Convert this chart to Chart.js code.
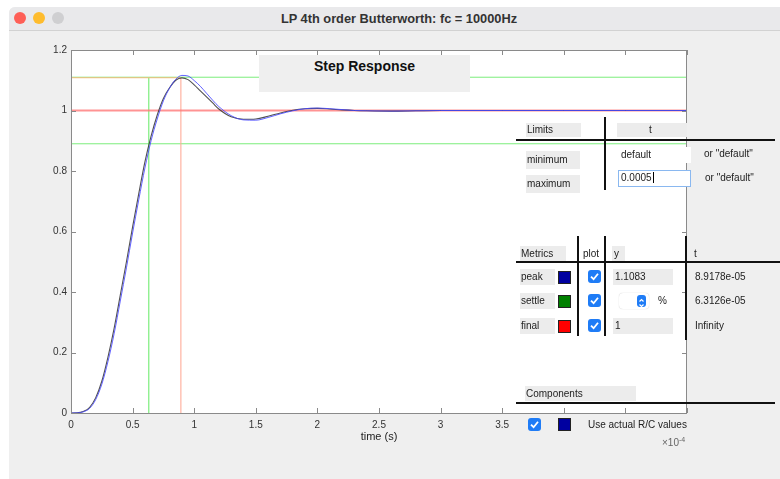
<!DOCTYPE html>
<html>
<head>
<meta charset="utf-8">
<script src="https://cdn.jsdelivr.net/npm/chart.js@4.4.0/dist/chart.umd.min.js"></script>
<style>
body{margin:0;width:780px;height:479px;background:#fff;position:relative;overflow:hidden;font-family:"Liberation Sans",Arial,sans-serif;color:#222;}
#win{position:absolute;left:9px;top:7px;width:771px;height:472px;background:#efefef;border-radius:6px 0 0 0;}
#bar{position:absolute;left:9px;top:7px;width:771px;height:23px;background:#e9e9eb;border-bottom:1px solid #d2d2d2;border-radius:6px 0 0 0;}
#bar .t{position:absolute;left:0;right:0;top:4px;text-align:center;font-size:12.8px;font-weight:bold;color:#333;padding-left:9px;}
.dot{position:absolute;top:11px;width:12px;height:12px;border-radius:50%;}
#chartBox{position:absolute;left:0;top:0;width:780px;height:479px;}
.o{position:absolute;font-size:10px;line-height:14px;white-space:nowrap;}
.g{position:absolute;background:#ececec;}
.hl{position:absolute;height:2px;background:#111;}
.vl{position:absolute;width:2px;background:#111;}
.sq{position:absolute;width:11px;height:11px;border:1px solid #222;}
.cb{position:absolute;width:13px;height:13px;background:#1f7cf6;border-radius:3px;}
.cb svg{position:absolute;left:2px;top:2px;}
.inp{position:absolute;background:#fff;font-size:10px;line-height:15px;padding-left:3px;box-sizing:border-box;}
</style>
</head>
<body>
<div id="win"></div>
<div id="bar">
  <div class="dot" style="left:5px;top:5px;background:#fe5f57;"></div>
  <div class="dot" style="left:24px;top:5px;background:#febc2e;"></div>
  <div class="dot" style="left:43px;top:5px;background:#cfcfd1;"></div>
  <div class="t">LP 4th order Butterworth: fc = 10000Hz</div>
</div>
<div id="chartBox"><canvas id="c" width="780" height="479"></canvas></div>

<!-- title box -->
<div class="g" style="left:259px;top:55px;width:211px;height:37px;background:#efefef;"></div>
<div class="o" style="left:259px;width:211px;top:57px;text-align:center;font-size:14px;font-weight:bold;line-height:18px;color:#111;">Step Response</div>

<!-- Limits table -->
<div class="g" style="left:526px;top:123px;width:55px;height:14px;"></div>
<div class="o" style="left:527px;top:123px;">Limits</div>
<div class="g" style="left:617px;top:123px;width:70px;height:14px;"></div>
<div class="o" style="left:649px;top:123px;">t</div>
<div class="hl" style="left:516px;top:139px;width:259px;"></div>
<div class="vl" style="left:604px;top:117px;height:73px;"></div>
<div class="g" style="left:526px;top:151px;width:54px;height:18px;"></div>
<div class="o" style="left:527px;top:153px;">minimum</div>
<div class="g" style="left:526px;top:175px;width:54px;height:18px;"></div>
<div class="o" style="left:527px;top:177px;">maximum</div>
<div class="inp" style="left:618px;top:147px;width:73px;height:16px;">default</div>
<div class="inp" style="left:618px;top:170px;width:73px;height:17px;border:1px solid #8ab8f0;padding-left:2px;line-height:14px;">0.0005<span style="border-left:1px solid #000;margin-left:1px;"></span></div>
<div class="o" style="left:704px;top:147px;">or "default"</div>
<div class="o" style="left:705px;top:171px;">or "default"</div>

<!-- Metrics table -->
<div class="g" style="left:520px;top:246px;width:46px;height:15px;"></div>
<div class="o" style="left:521px;top:247px;">Metrics</div>
<div class="o" style="left:583px;top:247px;">plot</div>
<div class="g" style="left:612px;top:246px;width:13px;height:15px;"></div>
<div class="o" style="left:614px;top:247px;">y</div>
<div class="o" style="left:694px;top:247px;">t</div>
<div class="hl" style="left:516px;top:261px;width:264px;"></div>
<div class="vl" style="left:577px;top:236px;height:100px;"></div>
<div class="vl" style="left:604px;top:236px;height:100px;"></div>
<div class="vl" style="left:685px;top:236px;height:104px;"></div>

<div class="g" style="left:520px;top:269px;width:35px;height:16px;"></div>
<div class="o" style="left:521px;top:270px;">peak</div>
<div class="g" style="left:520px;top:293px;width:35px;height:16px;"></div>
<div class="o" style="left:521px;top:294px;">settle</div>
<div class="g" style="left:520px;top:318px;width:35px;height:16px;"></div>
<div class="o" style="left:521px;top:319px;">final</div>

<div class="sq" style="left:558px;top:271px;background:#0000a0;"></div>
<div class="sq" style="left:558px;top:295px;background:#008000;"></div>
<div class="sq" style="left:558px;top:320px;background:#ff0000;"></div>

<div class="cb" style="left:588px;top:270px;"><svg width="9" height="9" viewBox="0 0 9 9"><path d="M1 4.6 L3.6 7.2 L8 1.8" stroke="#fff" stroke-width="1.8" fill="none"/></svg></div>
<div class="cb" style="left:588px;top:294px;"><svg width="9" height="9" viewBox="0 0 9 9"><path d="M1 4.6 L3.6 7.2 L8 1.8" stroke="#fff" stroke-width="1.8" fill="none"/></svg></div>
<div class="cb" style="left:588px;top:319px;"><svg width="9" height="9" viewBox="0 0 9 9"><path d="M1 4.6 L3.6 7.2 L8 1.8" stroke="#fff" stroke-width="1.8" fill="none"/></svg></div>

<div class="g" style="left:613px;top:269px;width:60px;height:16px;"></div>
<div class="o" style="left:615px;top:270px;">1.1083</div>
<div style="position:absolute;left:619px;top:293px;width:30px;height:16px;background:#fff;border-radius:4px;box-shadow:0 0 1px #bbb;"></div>
<div style="position:absolute;left:637px;top:295px;width:9px;height:12px;background:#1f7cf6;border-radius:3px;"><svg width="9" height="12" viewBox="0 0 9 12"><path d="M2.5 4.5 L4.5 2.5 L6.5 4.5 M2.5 7.5 L4.5 9.5 L6.5 7.5" stroke="#fff" stroke-width="1.2" fill="none"/></svg></div>
<div class="o" style="left:658px;top:294px;">%</div>
<div class="g" style="left:613px;top:318px;width:60px;height:16px;"></div>
<div class="o" style="left:615px;top:319px;">1</div>

<div class="o" style="left:695px;top:270px;">8.9178e-05</div>
<div class="o" style="left:695px;top:294px;">6.3126e-05</div>
<div class="o" style="left:695px;top:319px;">Infinity</div>

<!-- Components -->
<div class="g" style="left:525px;top:386px;width:111px;height:15px;"></div>
<div class="o" style="left:526px;top:387px;">Components</div>
<div class="hl" style="left:516px;top:402px;width:259px;"></div>
<div class="cb" style="left:528px;top:418px;"><svg width="9" height="9" viewBox="0 0 9 9"><path d="M1 4.6 L3.6 7.2 L8 1.8" stroke="#fff" stroke-width="1.8" fill="none"/></svg></div>
<div class="sq" style="left:558px;top:418px;background:#0000a0;"></div>
<div class="o" style="left:588px;top:418px;">Use actual R/C values</div>
<div class="o" style="left:662px;top:433px;color:#666;">&times;10<sup style="font-size:7px;">-4</sup></div>

<script>
// time axis in units of 1e-4 s
const timeSteps = [0, 0.05, 0.1, 0.15, 0.2, 0.25, 0.3, 0.35, 0.4, 0.45, 0.5, 0.55, 0.6, 0.65, 0.7, 0.75, 0.8, 0.85, 0.9, 0.95, 1.0, 1.05, 1.1, 1.15, 1.2, 1.3, 1.4, 1.5, 1.6, 1.7, 1.8, 1.9, 2.0, 2.1, 2.2, 2.3, 2.4, 2.6, 2.8, 3.0, 3.5, 4.0, 4.5, 5.0];
// ideal response (dark curve)
const stepIdeal = [0, 0.0005, 0.005, 0.018, 0.05, 0.105, 0.185, 0.28, 0.39, 0.5, 0.615, 0.725, 0.83, 0.915, 0.985, 1.04, 1.075, 1.1, 1.108, 1.102, 1.085, 1.065, 1.045, 1.025, 1.005, 0.979, 0.971, 0.972, 0.981, 0.992, 1.001, 1.006, 1.007, 1.005, 1.002, 1.0, 0.999, 0.998, 0.999, 1.0, 1.0, 1.0, 1.0, 1.0];
// actual R/C values (blue curve)
const stepActual = [0, 0.0003, 0.004, 0.015, 0.044, 0.095, 0.17, 0.262, 0.37, 0.48, 0.595, 0.705, 0.81, 0.9, 0.972, 1.032, 1.074, 1.103, 1.116, 1.114, 1.099, 1.08, 1.057, 1.034, 1.013, 0.983, 0.969, 0.968, 0.977, 0.989, 0.999, 1.006, 1.008, 1.006, 1.003, 1.0, 0.999, 0.998, 0.999, 1.0, 1.0, 1.0, 1.0, 1.0];

const xRange = [0, 5];
const yRange = [0, 1.2];
const xTickStep = 0.5;
const yTickStep = 0.2;
const xLabelMax = 3.5;

// metrics
const peakT = 0.89178, peakY = 1.1083;
const settleT = 0.63126;
const settleBand = [0.89, 1.11];
const finalY = 1;

const pts = (xs, ys) => xs.map((x, i) => ({x: x, y: ys[i]}));

const frame = {
  id: 'frame',
  beforeDraw(chart) {
    const {ctx, chartArea: a} = chart;
    ctx.save();
    ctx.fillStyle = '#ffffff';
    ctx.fillRect(a.left, a.top, a.right - a.left, a.bottom - a.top);
    ctx.restore();
  },
  afterDraw(chart) {
    const {ctx, chartArea: a, scales} = chart;
    ctx.save();
    ctx.strokeStyle = '#8a8a8a';
    ctx.lineWidth = 1;
    ctx.strokeRect(a.left + 0.5, a.top + 0.5, a.right - a.left - 1, a.bottom - a.top);
    ctx.beginPath();
    scales.x.ticks.forEach(t => {
      const px = Math.round(scales.x.getPixelForValue(t.value)) + 0.5;
      ctx.moveTo(px, a.bottom); ctx.lineTo(px, a.bottom - 5);
      ctx.moveTo(px, a.top); ctx.lineTo(px, a.top + 5);
    });
    scales.y.ticks.forEach(t => {
      const py = Math.round(scales.y.getPixelForValue(t.value)) + 0.5;
      ctx.moveTo(a.left, py); ctx.lineTo(a.left + 5, py);
      ctx.moveTo(a.right, py); ctx.lineTo(a.right - 5, py);
    });
    ctx.stroke();
    ctx.restore();
  }
};

const line = (data, color, width, order) => ({
  data: data, borderColor: color, borderWidth: width, pointRadius: 0, fill: false, tension: 0, order: order
});

new Chart(document.getElementById('c'), {
  type: 'line',
  data: {
    datasets: [
      Object.assign(line(pts(timeSteps, stepActual), 'rgba(70,70,255,0.85)', 1, 0), {tension: 0.4, cubicInterpolationMode: 'monotone'}),
      Object.assign(line(pts(timeSteps, stepIdeal), 'rgba(50,50,50,0.85)', 1.1, 1), {tension: 0.4, cubicInterpolationMode: 'monotone'}),
      line([{x: xRange[0], y: finalY}, {x: xRange[1], y: finalY}], 'rgba(255,120,120,0.8)', 1.8, 2),
      line([{x: xRange[0], y: peakY}, {x: peakT, y: peakY}], 'rgba(250,180,120,0.9)', 1, 3),
      line([{x: peakT, y: 0}, {x: peakT, y: peakY}], 'rgba(255,170,150,0.9)', 1.2, 4),
      line([{x: settleT, y: 0}, {x: settleT, y: peakY}], 'rgba(110,235,110,0.9)', 1.2, 5),
      line([{x: xRange[0], y: settleBand[1]}, {x: xRange[1], y: settleBand[1]}], 'rgba(110,235,110,0.9)', 1, 6),
      line([{x: xRange[0], y: settleBand[0]}, {x: xRange[1], y: settleBand[0]}], 'rgba(110,235,110,0.9)', 1, 7)
    ]
  },
  options: {
    responsive: false,
    animation: false,
    devicePixelRatio: 1,
    layout: {padding: {left: 0, right: 93, top: 50, bottom: 0}},
    plugins: {legend: {display: false}, tooltip: {enabled: false}},
    scales: {
      x: {
        type: 'linear', min: xRange[0], max: xRange[1],
        grid: {display: false, drawTicks: false},
        border: {display: false},
        ticks: {
          stepSize: xTickStep, padding: 6, color: '#333', maxRotation: 0,
          font: {family: '"Liberation Sans", Arial, sans-serif', size: 10},
          callback: v => v > xLabelMax ? '' : String(parseFloat(v.toFixed(2)))
        },
        title: {display: true, text: 'time (s)', color: '#222', padding: {top: 0, bottom: 35},
          font: {family: '"Liberation Sans", Arial, sans-serif', size: 11}},
        afterFit: s => { s.height = 66; }
      },
      y: {
        min: yRange[0], max: yRange[1],
        grid: {display: false, drawTicks: false},
        border: {display: false},
        ticks: {
          stepSize: yTickStep, padding: 4, color: '#333',
          font: {family: '"Liberation Sans", Arial, sans-serif', size: 10},
          callback: v => String(parseFloat(v.toFixed(2)))
        },
        afterFit: s => { s.width = 71; }
      }
    }
  },
  plugins: [frame]
});
</script>
</body>
</html>
